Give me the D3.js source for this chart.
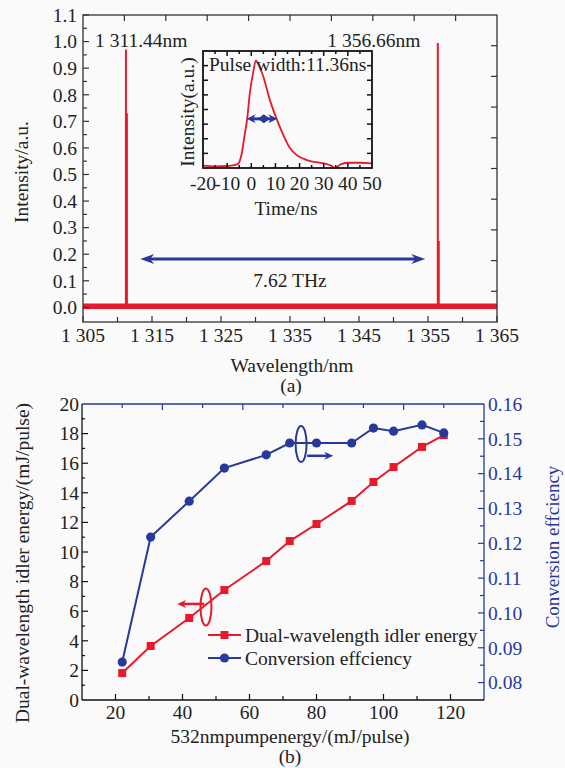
<!DOCTYPE html>
<html><head><meta charset="utf-8">
<script src="https://cdn.jsdelivr.net/npm/d3@7"></script>
<style>
body{margin:0;background:#fafafa}
svg{display:block}
text{font-family:"Liberation Serif","Times New Roman",serif;fill:#222}
</style>
</head><body>
<svg id="c" width="565" height="768"></svg>
<script>
// ---------- DATA ----------
// (a) spectrum
const specRange = [1305, 1365];
const specTicks = [1305, 1315, 1325, 1335, 1345, 1355, 1365];
const baseLevel = 0.004;
const peakWavelength = [1311.22, 1311.36, 1356.42, 1356.56];
const peakIntensity = [0.97, 0.73, 0.995, 0.25];
const peakLabels = ["1 311.44nm", "1 356.66nm"];
const intensityTicks = [0.0, 0.1, 0.2, 0.3, 0.4, 0.5, 0.6, 0.7, 0.8, 0.9, 1.0, 1.1];
// inset pulse
const pulseTime = [-20, -15, -10, -7, -5.4, -4, -2.7, -1.7, -0.6, 0.8, 1.9, 2.9, 5, 7.7, 10.5, 13.3, 16, 18.8, 21.6, 24, 27, 31, 33, 34.8, 36.9, 40, 45, 50];
const pulseIntensity = [0.02, 0.014, 0.017, 0.025, 0.037, 0.12, 0.29, 0.42, 0.64, 0.82, 0.92, 0.89, 0.78, 0.58, 0.42, 0.28, 0.17, 0.11, 0.08, 0.06, 0.05, 0.035, 0.02, 0.0, 0.03, 0.045, 0.045, 0.04];
const timeTicks = [-20, -10, 0, 10, 20, 30, 40, 50];
const fwhm = [-1.9, 10.8];
// (b) energy / efficiency
const pumpEnergy = [22, 30.5, 42, 52.5, 65, 72, 80, 90.5, 97, 103, 111.5, 118];
const idlerEnergy = [1.82, 3.65, 5.54, 7.43, 9.39, 10.74, 11.89, 13.45, 14.73, 15.74, 17.1, 17.9];
const convEff = [0.0859, 0.1218, 0.1321, 0.1416, 0.1454, 0.1488, 0.1488, 0.1488, 0.1531, 0.1522, 0.154, 0.1517];
const pumpTicks = [20, 40, 60, 80, 100, 120];
const energyTicks = [0, 2, 4, 6, 8, 10, 12, 14, 16, 18, 20];
const effTicks = [0.08, 0.09, 0.10, 0.11, 0.12, 0.13, 0.14, 0.15, 0.16];

// ---------- STYLE ----------
const RED = "#e8192c", BLUE = "#27399a", AX = "#333", FS = "19.5px";
const svg = d3.select("#c");
svg.append("rect").attr("width", 565).attr("height", 768).attr("fill", "#fafafa");

function tickLines(g, vals, fx, fy, color, w) {
  g.selectAll(null).data(vals).enter().append("line")
    .attr("x1", d => fx(d)[0]).attr("x2", d => fx(d)[1])
    .attr("y1", d => fy(d)[0]).attr("y2", d => fy(d)[1])
    .attr("stroke", color).attr("stroke-width", w || 1.2);
}

// ================= (a) =================
const xA = d3.scaleLinear().domain(specRange).range([83, 497]);
const yA = d3.scaleLinear().domain([-0.055, 1.1]).range([322, 15]);
const gA = svg.append("g");

// spectrum baseline (thick noise band) and peaks
gA.append("line").attr("x1", xA(specRange[0])).attr("x2", xA(specRange[1]))
  .attr("y1", yA(baseLevel)).attr("y2", yA(baseLevel))
  .attr("stroke", RED).attr("stroke-width", 5.5);
gA.selectAll(null).data(peakWavelength).enter().append("line")
  .attr("x1", d => xA(d)).attr("x2", d => xA(d))
  .attr("y1", yA(baseLevel)).attr("y2", (d, i) => yA(peakIntensity[i]))
  .attr("stroke", RED).attr("stroke-width", 2);

// frame
gA.append("rect").attr("x", 83).attr("y", 15).attr("width", 414).attr("height", 307)
  .attr("fill", "none").attr("stroke", AX).attr("stroke-width", 1.3);

// bottom ticks
const bt = d3.range(1305, 1366, 5);
tickLines(gA, bt, d => [xA(d), xA(d)], d => [322, 322 - ((d - 1305) % 10 === 0 ? 6 : 5)], AX);
gA.selectAll(null).data(specTicks).enter().append("text")
  .attr("x", d => xA(d)).attr("y", 342).attr("text-anchor", "middle").attr("font-size", FS)
  .text(d => String(d).replace(/^(\d)(\d{3})$/, "$1 $2"));
// left ticks
const lt = d3.range(0, 23).map(i => i * 0.05);
tickLines(gA, lt, d => [83, 83 + (Math.round(d * 100) % 10 === 0 ? 6 : 4)], d => [yA(d), yA(d)], AX);
gA.selectAll(null).data(intensityTicks).enter().append("text")
  .attr("x", 77).attr("y", d => yA(d)).attr("dy", "0.35em").attr("text-anchor", "end").attr("font-size", FS)
  .text(d => d3.format(".1f")(d));
// top & right ticks (10 divisions)
const divX = d3.scaleLinear().domain([0, 10]).range([83, 497]);
const divY = d3.scaleLinear().domain([0, 10]).range([322, 15]);
tickLines(gA, d3.range(1, 10), d => [divX(d), divX(d)], d => [15, 21], AX);
tickLines(gA, d3.range(1, 10), d => [497, 491], d => [divY(d), divY(d)], AX);

// axis titles
gA.append("text").attr("x", 292).attr("y", 372).attr("text-anchor", "middle").attr("font-size", FS).text("Wavelength/nm");
gA.append("text").attr("transform", "translate(28,172) rotate(-90)").attr("text-anchor", "middle").attr("font-size", FS).text("Intensity/a.u.");
gA.append("text").attr("x", 291).attr("y", 392).attr("text-anchor", "middle").attr("font-size", FS).text("(a)");

// peak labels
gA.append("text").attr("x", xA(1306.75)).attr("y", yA(0.98)).attr("font-size", FS).text(peakLabels[0]);
gA.append("text").attr("x", xA(1340.4)).attr("y", yA(0.98)).attr("font-size", FS).text(peakLabels[1]);

// double arrow 7.62 THz
function dblArrow(g, x1, x2, y, color, lw, hl, hw) {
  g.append("line").attr("x1", x1 + hl * 0.6).attr("x2", x2 - hl * 0.6).attr("y1", y).attr("y2", y)
    .attr("stroke", color).attr("stroke-width", lw);
  g.append("path").attr("d", `M${x1},${y} L${x1 + hl},${y - hw} L${x1 + hl * 0.7},${y} L${x1 + hl},${y + hw} Z`).attr("fill", color);
  g.append("path").attr("d", `M${x2},${y} L${x2 - hl},${y - hw} L${x2 - hl * 0.7},${y} L${x2 - hl},${y + hw} Z`).attr("fill", color);
}
dblArrow(gA, xA(1313.3), xA(1354.6), yA(0.182), BLUE, 3, 14, 5);
gA.append("text").attr("x", xA(1335)).attr("y", yA(0.077)).attr("text-anchor", "middle").attr("font-size", FS).text("7.62 THz");

// ---------- inset ----------
const xI = d3.scaleLinear().domain([-20, 50]).range([203, 372]);
const yI = d3.scaleLinear().domain([0, 1]).range([168, 51]);
const gI = svg.append("g");
gI.append("path").datum(pulseTime.map((t, i) => [t, pulseIntensity[i]]))
  .attr("d", d3.line().x(d => xI(d[0])).y(d => yI(d[1])).curve(d3.curveMonotoneX))
  .attr("fill", "none").attr("stroke", RED).attr("stroke-width", 1.8);
gI.append("rect").attr("x", 203).attr("y", 51).attr("width", 169).attr("height", 117)
  .attr("fill", "none").attr("stroke", "#111").attr("stroke-width", 1.8);
const it = d3.range(-20, 51, 5);
tickLines(gI, it.slice(1, -1), d => [xI(d), xI(d)], d => [168, 168 - (d % 10 === 0 ? 5 : 3)], "#111", 1.5);
tickLines(gI, it.slice(1, -1), d => [xI(d), xI(d)], d => [51, 51 + (d % 10 === 0 ? 5 : 3)], "#111", 1.5);
const iy = d3.range(1, 8).map(i => i / 8);
tickLines(gI, iy, d => [203, 208], d => [yI(d), yI(d)], "#111", 1.5);
tickLines(gI, iy, d => [372, 367], d => [yI(d), yI(d)], "#111", 1.5);
gI.selectAll(null).data(timeTicks).enter().append("text")
  .attr("x", d => xI(d)).attr("y", 190).attr("text-anchor", "middle").attr("font-size", FS)
  .text(d => String(d));
gI.append("text").attr("x", 286).attr("y", 215).attr("text-anchor", "middle").attr("font-size", FS).text("Time/ns");
gI.append("text").attr("transform", "translate(194,112) rotate(-90)").attr("text-anchor", "middle").attr("font-size", FS).text("Intensity(a.u.)");
gI.append("text").attr("x", 209).attr("y", 71).attr("font-size", FS).text("Pulse width:11.36ns");
// FWHM arrow
const fy = yI(0.42), fx1 = xI(fwhm[0]), fx2 = xI(fwhm[1]), fm = xI(5.2);
dblArrow(gI, fx1, fx2, fy, BLUE, 3, 9, 4.5);
gI.append("path").attr("d", `M${fm - 6},${fy} L${fm},${fy - 4.5} L${fm + 6},${fy} L${fm},${fy + 4.5} Z`).attr("fill", BLUE);

// ================= (b) =================
const xB = d3.scaleLinear().domain([10, 130]).range([82, 484]);
const yL = d3.scaleLinear().domain([0, 20]).range([700, 404]);
const yR = d3.scaleLinear().domain([0.075, 0.16]).range([700, 404]);
const gB = svg.append("g");

// frame
gB.append("line").attr("x1", 82).attr("x2", 484).attr("y1", 404).attr("y2", 404).attr("stroke", BLUE).attr("stroke-width", 1.3);
gB.append("line").attr("x1", 484).attr("x2", 484).attr("y1", 404).attr("y2", 700).attr("stroke", BLUE).attr("stroke-width", 1.3);
gB.append("line").attr("x1", 82).attr("x2", 484).attr("y1", 700).attr("y2", 700).attr("stroke", "#111").attr("stroke-width", 1.3);
gB.append("line").attr("x1", 82).attr("x2", 82).attr("y1", 404).attr("y2", 700).attr("stroke", "#111").attr("stroke-width", 1.3);

// bottom ticks
tickLines(gB, d3.range(20, 121, 10), d => [xB(d), xB(d)], d => [700, 700 - (d % 20 === 0 ? 6 : 4)], "#111");
gB.selectAll(null).data(pumpTicks).enter().append("text")
  .attr("x", d => xB(d)).attr("y", 719).attr("text-anchor", "middle").attr("font-size", FS).text(d => d);
// left ticks
tickLines(gB, d3.range(1, 20), d => [82, 82 + (d % 2 === 0 ? 6 : 3)], d => [yL(d), yL(d)], "#111");
gB.selectAll(null).data(energyTicks).enter().append("text")
  .attr("x", 79).attr("y", d => yL(d)).attr("dy", "0.35em").attr("text-anchor", "end").attr("font-size", FS).text(d => d);
// top ticks (blue)
tickLines(gB, d3.range(22, 130, 12), d => [xB(d), xB(d)], d => [404, 404 + ((d - 10) % 24 === 0 ? 6 : 4)], BLUE);
// right ticks (blue)
const rt = d3.range(0, 17).map(i => 0.08 + i * 0.005);
tickLines(gB, rt.filter(d => d < 0.1599), d => [484, 484 - (Math.round(d * 1000) % 10 === 0 ? 6 : 4)], d => [yR(d), yR(d)], BLUE);
gB.selectAll(null).data(effTicks).enter().append("text")
  .attr("x", 488).attr("y", d => yR(d)).attr("dy", "0.35em").attr("font-size", FS)
  .style("fill", BLUE).text(d => d3.format(".2f")(d));

// axis titles
gB.append("text").attr("x", 290).attr("y", 743).attr("text-anchor", "middle").attr("font-size", FS).text("532nmpumpenergy/(mJ/pulse)");
gB.append("text").attr("x", 290).attr("y", 763).attr("text-anchor", "middle").attr("font-size", FS).text("(b)");
gB.append("text").attr("transform", "translate(29,563) rotate(-90)").attr("text-anchor", "middle").attr("font-size", FS).text("Dual-wavelength idler energy/(mJ/pulse)");
gB.append("text").attr("transform", "translate(559,547) rotate(-90)").attr("text-anchor", "middle").attr("font-size", "19px").style("fill", BLUE).text("Conversion effciency");

// series
const lineL = d3.line().x((d, i) => xB(pumpEnergy[i])).y(d => yL(d));
const lineR = d3.line().x((d, i) => xB(pumpEnergy[i])).y(d => yR(d));
gB.append("path").datum(idlerEnergy).attr("d", lineL).attr("fill", "none").attr("stroke", RED).attr("stroke-width", 2);
gB.append("path").datum(convEff).attr("d", lineR).attr("fill", "none").attr("stroke", BLUE).attr("stroke-width", 2);
gB.selectAll(null).data(idlerEnergy).enter().append("rect")
  .attr("x", (d, i) => xB(pumpEnergy[i]) - 4).attr("y", d => yL(d) - 4).attr("width", 8).attr("height", 8).attr("fill", RED);
gB.selectAll(null).data(convEff).enter().append("circle")
  .attr("cx", (d, i) => xB(pumpEnergy[i])).attr("cy", d => yR(d)).attr("r", 4.6).attr("fill", BLUE);

// series markers (ellipses + arrows), in data units
function oneArrow(g, x1, x2, y, color) {
  const dir = Math.sign(x2 - x1), hl = 9, hw = 4;
  g.append("line").attr("x1", x1).attr("x2", x2 - dir * hl * 0.6).attr("y1", y).attr("y2", y).attr("stroke", color).attr("stroke-width", 2.5);
  g.append("path").attr("d", `M${x2},${y} L${x2 - dir * hl},${y - hw} L${x2 - dir * hl * 0.7},${y} L${x2 - dir * hl},${y + hw} Z`).attr("fill", color);
}
gB.append("ellipse").attr("cx", xB(75.4)).attr("cy", yL(17.3)).attr("rx", 5.5).attr("ry", 18)
  .attr("fill", "none").attr("stroke", BLUE).attr("stroke-width", 2);
oneArrow(gB, xB(77.2), xB(85), yL(16.5), BLUE);
gB.append("ellipse").attr("cx", xB(47)).attr("cy", yL(6.28)).attr("rx", 5.5).attr("ry", 18.5)
  .attr("fill", "none").attr("stroke", RED).attr("stroke-width", 2);
oneArrow(gB, xB(46.5), xB(38.4), yL(6.49), RED);

// legend
const lg = svg.append("g");
[[RED, "Dual-wavelength idler energy", 635, "sq"], [BLUE, "Conversion effciency", 658, "ci"]].forEach(([c, t, y, m]) => {
  lg.append("line").attr("x1", 208).attr("x2", 241).attr("y1", y).attr("y2", y).attr("stroke", c).attr("stroke-width", 2);
  if (m === "sq") lg.append("rect").attr("x", 220.5).attr("y", y - 4).attr("width", 8).attr("height", 8).attr("fill", c);
  else lg.append("circle").attr("cx", 224.5).attr("cy", y).attr("r", 4.6).attr("fill", c);
  lg.append("text").attr("x", 245).attr("y", y).attr("dy", "0.35em").attr("font-size", FS).text(t);
});
</script>
</body></html>
